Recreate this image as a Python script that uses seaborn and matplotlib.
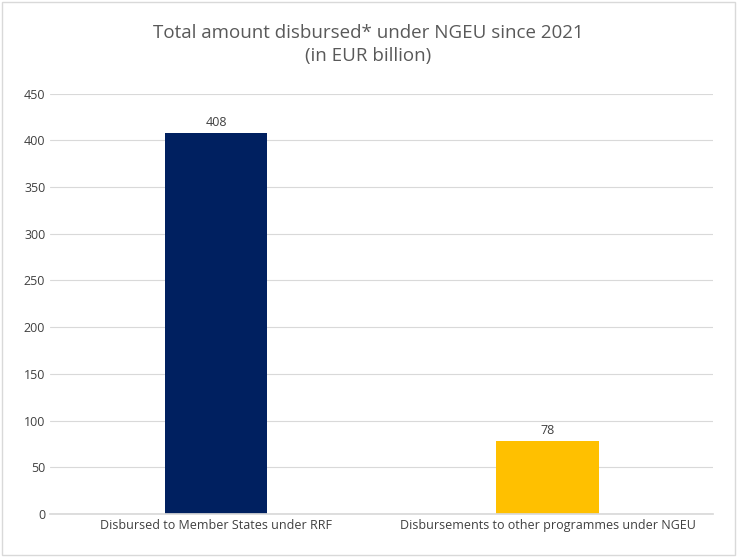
import matplotlib
matplotlib.use("Agg")
import matplotlib.pyplot as plt
import seaborn as sns
import pandas as pd

categories = ["Disbursed to Member States under RRF", "Disbursements to other programmes under NGEU"]
values = [408, 78]
colors = ["#002060", "#FFC000"]

sns.set_theme(style="white")
plt.rcParams['font.family'] = ['Open Sans', 'DejaVu Sans']

fig = plt.figure(figsize=(7.37, 5.57), dpi=100)
ax = fig.add_axes([0.068, 0.077, 0.9, 0.755])
df = pd.DataFrame({"cat": categories, "val": values})
sns.barplot(data=df, x="cat", y="val", hue="cat", palette=colors, width=0.31, ax=ax, legend=False, saturation=1, linewidth=0)
ax.set_ylim(0, 450)
ax.set_yticks(range(0, 451, 50))
ax.yaxis.grid(True, color="#d9d9d9", linewidth=0.8)
ax.set_axisbelow(True)
for s in ["top", "right", "left"]:
    ax.spines[s].set_visible(False)
ax.spines["bottom"].set_color("#d9d9d9")
ax.set_xlabel(""); ax.set_ylabel("")
ax.tick_params(axis="both", labelsize=9, colors="#404040", length=0)
for i, v in enumerate(values):
    ax.text(i, v + 4, str(v), ha="center", va="bottom", fontsize=9, color="#404040")
fig.text(0.5, 0.92, "Total amount disbursed* under NGEU since 2021\n(in EUR billion)", ha="center", va="center", fontsize=13.5, color="#595959", linespacing=1.35)
fig.patches.append(matplotlib.patches.Rectangle((0.003, 0.003), 0.994, 0.994, transform=fig.transFigure, fill=False, edgecolor="#d9d9d9", linewidth=1))
fig.savefig("out.png", dpi=100)
